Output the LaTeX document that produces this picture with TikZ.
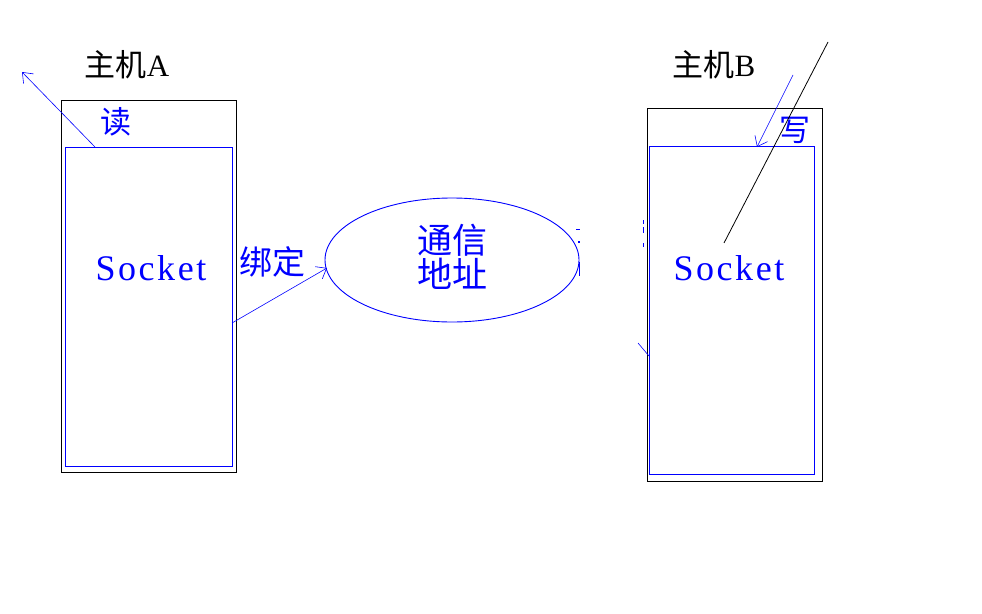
\documentclass[tikz,border=0pt]{standalone}
\usepackage{fontspec}
\setmainfont{Liberation Serif}
\newfontfamily\cjk{Noto Sans CJK SC}
\newfontfamily\sockfont[LetterSpace=7]{Liberation Serif}
\usetikzlibrary{shapes.geometric,arrows.meta}
\definecolor{pblue}{RGB}{0,0,255}
\tikzset{
  hostbox/.style={draw=black,line width=0.9pt,rectangle,inner sep=0pt},
  sockbox/.style={draw=pblue,line width=0.9pt,rectangle,inner sep=0pt},
  lbl/.style={inner sep=0pt,text=pblue},
  hostlbl/.style={inner sep=0pt,text=black},
  bluearrow/.style={draw=pblue,line width=0.6pt,-{Straight Barb[length=9pt,width=14pt]}},
  blueline/.style={draw=pblue,line width=0.6pt},
  straymark/.style={draw=pblue,line width=1pt}
}
\begin{document}
\begin{tikzpicture}[x=1pt,y=-1pt]
\useasboundingbox[fill=white] (0,0) rectangle (982,613);
% host A
\node[hostbox,minimum width=175pt,minimum height=372pt] (hostA) at (148.5,286) {};
\node[sockbox,minimum width=167pt,minimum height=319pt] (sockA) at (148.5,306.5) {};
\node[hostlbl,font=\fontsize{31}{31}\selectfont] (labA) at (127,65) {{\cjk 主机}A};
\node[lbl,font=\cjk\fontsize{31}{31}\selectfont] (read) at (116,122) {读};
\node[lbl,font=\sockfont\fontsize{36}{36}\selectfont] (socA) at (151,268) {Socket};
% host B
\node[hostbox,minimum width=175pt,minimum height=373pt] (hostB) at (734.5,294.5) {};
\node[sockbox,minimum width=165pt,minimum height=328pt] (sockB) at (731.5,310) {};
\node[hostlbl,font=\fontsize{31}{31}\selectfont] (labB) at (714,65) {{\cjk 主机}B};
\node[lbl,font=\cjk\fontsize{31}{31}\selectfont] (write) at (795,130) {写};
\node[lbl,font=\sockfont\fontsize{36}{36}\selectfont] (socB) at (729,268) {Socket};
% ellipse
\node[draw=pblue,line width=0.9pt,ellipse,minimum width=254pt,minimum height=124pt,inner sep=0pt] (addr) at (452,260) {};
\node[lbl,font=\cjk\fontsize{35}{34}\selectfont,align=center] (addrtxt) at (452,257) {通信\\地址};
\node[lbl,font=\cjk\fontsize{33}{33}\selectfont] (bind) at (272,262) {绑定};
% connectors
\coordinate (readstart) at (95,147);
\coordinate (readend) at (22,72);
\draw[bluearrow] (readstart) -- (readend);
\coordinate (bindstart) at (232,323);
\coordinate (bindend) at (327,268);
\draw[bluearrow] (bindstart) -- (bindend);
\coordinate (writestart) at (793,75);
\coordinate (writeend) at (757,147);
\draw[bluearrow] (writestart) -- (writeend);
\coordinate (blkA) at (828,42);
\coordinate (blkB) at (724,243);
\draw[black,line width=0.8pt] (blkA) -- (blkB);
% small stray marks
\coordinate (m1a) at (579.5,262); \coordinate (m1b) at (579.5,276);
\draw[straymark] (m1a) -- (m1b);
\coordinate (m2a) at (576,229); \coordinate (m2b) at (580,229);
\draw[straymark] (m2a) -- (m2b);
\coordinate (m3a) at (578,242); \coordinate (m3b) at (580,242);
\draw[straymark,line width=2pt] (m3a) -- (m3b);
\coordinate (m4a) at (643.5,220); \coordinate (m4b) at (643.5,224);
\draw[straymark] (m4a) -- (m4b);
\coordinate (m5a) at (643.5,227); \coordinate (m5b) at (643.5,233);
\draw[straymark,line width=1.5pt] (m5a) -- (m5b);
\coordinate (m6a) at (643.5,243); \coordinate (m6b) at (643.5,247);
\draw[straymark] (m6a) -- (m6b);
\coordinate (m7a) at (638,343); \coordinate (m7b) at (649,356);
\draw[blueline] (m7a) -- (m7b);
\end{tikzpicture}
\end{document}
